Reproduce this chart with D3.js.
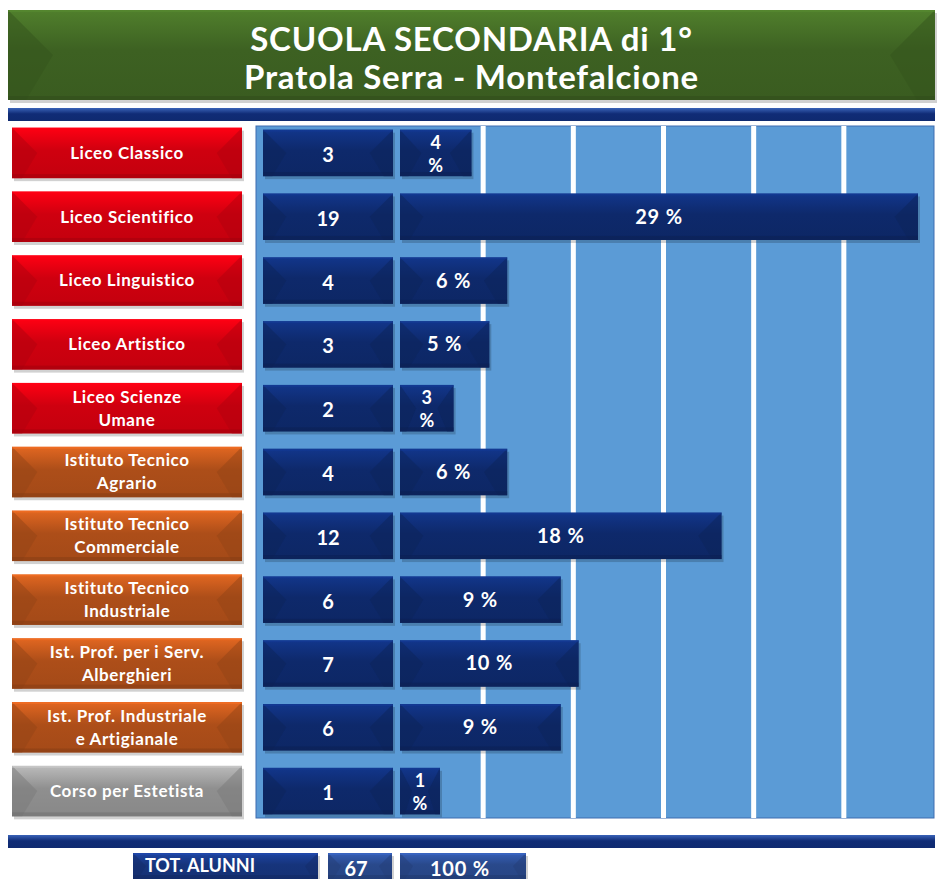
<!DOCTYPE html>
<html>
<head>
<meta charset="utf-8">
<script src="https://cdn.jsdelivr.net/npm/d3@7"></script>
<style>
  body { margin: 0; background: #fff; }
  svg text { font-family: Lato, "Open Sans", sans-serif; fill: #fff; }
</style>
</head>
<body>
<svg id="chart"></svg>
<script>
// Data
const categories = [
    "Liceo Classico",
    "Liceo Scientifico",
    "Liceo Linguistico",
    "Liceo Artistico",
    "Liceo Scienze\nUmane",
    "Istituto Tecnico\nAgrario",
    "Istituto Tecnico\nCommerciale",
    "Istituto Tecnico\nIndustriale",
    "Ist. Prof. per i Serv.\nAlberghieri",
    "Ist. Prof. Industriale\ne Artigianale",
    "Corso per Estetista"
];
const groups = ["liceo", "liceo", "liceo", "liceo", "liceo",
    "tecnico", "tecnico", "tecnico", "prof", "prof", "corso"];
const counts = [3, 19, 4, 3, 2, 4, 12, 6, 7, 6, 1];
const percents = [4, 29, 6, 5, 3, 6, 18, 9, 10, 9, 1];
const gridTicks = [1, 2, 3, 4, 5];
const totalLabel = "TOT. ALUNNI";
const totalCount = 67;
const totalPct = 100;

const rows = categories.map((c, i) => ({
    name: c, group: groups[i], count: counts[i], pct: percents[i]
}));

const width = 943, height = 879;
const svg = d3.select("#chart").attr("width", width).attr("height", height);
const defs = svg.append("defs");

// colour per label group
const groupColor = d3.scaleOrdinal()
    .domain(["liceo", "tecnico", "prof", "corso"])
    .range(["#d3000f", "#b0501a", "#b0501a", "#929292"]);

function gradient(id, top, bottom) {
    const g = defs.append("linearGradient").attr("id", id)
        .attr("x1", 0).attr("y1", 0).attr("x2", 0).attr("y2", 1);
    g.append("stop").attr("offset", "0%").attr("stop-color", top);
    g.append("stop").attr("offset", "45%").attr("stop-color", d3.color(bottom).brighter(0.15));
    g.append("stop").attr("offset", "100%").attr("stop-color", bottom);
}

// bevelled box like the PowerPoint shapes
function bevel(g, x, y, w, h, color) {
    const c = d3.color(color);
    const id = "g" + c.formatHex().slice(1);
    if (defs.select("#" + id).empty()) gradient(id, c.brighter(0.7), c.darker(0.2));
    const d = Math.min(h * 0.5, w * 0.3);
    g.append("rect").attr("x", x + 2).attr("y", y + 3).attr("width", w).attr("height", h)
        .attr("fill", "#000").attr("opacity", 0.18);
    g.append("rect").attr("x", x).attr("y", y).attr("width", w).attr("height", h)
        .attr("fill", `url(#${id})`);
    g.append("polygon")
        .attr("points", [[x, y], [x + d, y + h * 0.5], [x + d * 0.4, y + h], [x, y + h]].join(" "))
        .attr("fill", c.darker(0.5)).attr("opacity", 0.5);
    g.append("polygon")
        .attr("points", [[x + w, y], [x + w - d, y + h * 0.5], [x + w - d * 0.4, y + h], [x + w, y + h]].join(" "))
        .attr("fill", c.darker(0.5)).attr("opacity", 0.5);
    g.append("rect").attr("x", x).attr("y", y + h - 4).attr("width", w).attr("height", 4)
        .attr("fill", c.darker(0.8)).attr("opacity", 0.5);
    g.append("rect").attr("x", x).attr("y", y).attr("width", w).attr("height", 2)
        .attr("fill", c.brighter(1)).attr("opacity", 0.5);
}

// Title
bevel(svg.append("g"), 8, 10, 927, 90, "#3e6322");
svg.append("text").attr("x", width / 2).attr("y", 51).attr("text-anchor", "middle")
    .style("font-size", "33px").style("font-weight", "bold").style("letter-spacing", "0.8px")
    .text("SCUOLA SECONDARIA di 1°");
svg.append("text").attr("x", width / 2).attr("y", 89).attr("text-anchor", "middle")
    .style("font-size", "33px").style("font-weight", "bold").style("letter-spacing", "0.8px")
    .text("Pratola Serra - Montefalcione");

gradient("bluebar", "#3a63b8", "#0f2a70");
svg.append("rect").attr("x", 8).attr("y", 108).attr("width", 927).attr("height", 13)
    .attr("fill", "url(#bluebar)");
svg.append("rect").attr("x", 8).attr("y", 835).attr("width", 927).attr("height", 13)
    .attr("fill", "url(#bluebar)");

// Scales
const y = d3.scaleBand().domain(categories).range([121, 823]).paddingInner(0.24).paddingOuter(0.12);
const x0 = 400;
const xPct = d3.scaleLinear().domain([0, 29]).range([0, 518]);
const xGrid = d3.scaleLinear().domain([0, 6]).range([393, 934]);

// plot background
svg.append("rect").attr("x", 256).attr("y", 126).attr("width", 678).attr("height", 692)
    .attr("fill", "#5b9bd6").attr("stroke", "#3e6db0").attr("stroke-width", 1);

svg.append("g").selectAll("line").data(gridTicks).join("line")
    .attr("x1", d => xGrid(d)).attr("x2", d => xGrid(d))
    .attr("y1", 126).attr("y2", 818)
    .attr("stroke", "#ffffff").attr("stroke-width", 5);

const row = svg.append("g").selectAll("g").data(rows).join("g");

row.each(function (d) {
    const g = d3.select(this);
    const top = y(d.name), bh = y.bandwidth();
    const cy = top + bh / 2;

    // category label box
    bevel(g, 12, top - 1, 230, bh + 2, groupColor(d.group));
    const lines = d.name.split("\n");
    lines.forEach((ln, i) => {
        g.append("text").attr("x", 127)
            .attr("y", cy + (i - (lines.length - 1) / 2) * 23)
            .attr("dy", "0.35em").attr("text-anchor", "middle")
            .style("font-size", "17px").style("font-weight", "bold")
            .style("letter-spacing", "0.6px").text(ln);
    });

    // count box
    bevel(g, 263, top + 1, 130, bh - 2, "#0e2a6c");
    g.append("text").attr("x", 328).attr("y", cy + 2).attr("dy", "0.35em")
        .attr("text-anchor", "middle").style("font-size", "20px").style("font-weight", "bold")
        .text(d.count);

    // percent bar
    const w = Math.max(xPct(d.pct), 40);
    bevel(g, x0, top + 1, w, bh - 2, "#0e2a6c");
    if (w < 76) {
        g.append("text").attr("x", x0 + w / 2).attr("y", cy - 10).attr("dy", "0.35em")
            .attr("text-anchor", "middle").style("font-size", "18px").style("font-weight", "bold")
            .text(d.pct);
        g.append("text").attr("x", x0 + w / 2).attr("y", cy + 13).attr("dy", "0.35em")
            .attr("text-anchor", "middle").style("font-size", "18px").style("font-weight", "bold")
            .text("%");
    } else {
        g.append("text").attr("x", x0 + w / 2).attr("y", cy).attr("dy", "0.35em")
            .attr("text-anchor", "middle").style("font-size", "20px").style("font-weight", "bold")
            .style("letter-spacing", "0.8px").text(d.pct + " %");
    }
});

// totals row
const tot = svg.append("g");
bevel(tot, 133, 853, 185, 26, "#17357e");
tot.append("text").attr("x", 200).attr("y", 866).attr("dy", "0.35em").attr("text-anchor", "middle")
    .style("font-size", "18px").style("font-weight", "bold").text(totalLabel);
bevel(tot, 328, 853, 64, 26, "#2a4a8e");
tot.append("text").attr("x", 356).attr("y", 869).attr("dy", "0.35em").attr("text-anchor", "middle")
    .style("font-size", "20px").style("font-weight", "bold").text(totalCount);
bevel(tot, 400, 853, 126, 26, "#2a4a8e");
tot.append("text").attr("x", 460).attr("y", 869).attr("dy", "0.35em").attr("text-anchor", "middle")
    .style("font-size", "20px").style("font-weight", "bold").style("letter-spacing", "0.8px")
    .text(totalPct + " %");
</script>
</body>
</html>
